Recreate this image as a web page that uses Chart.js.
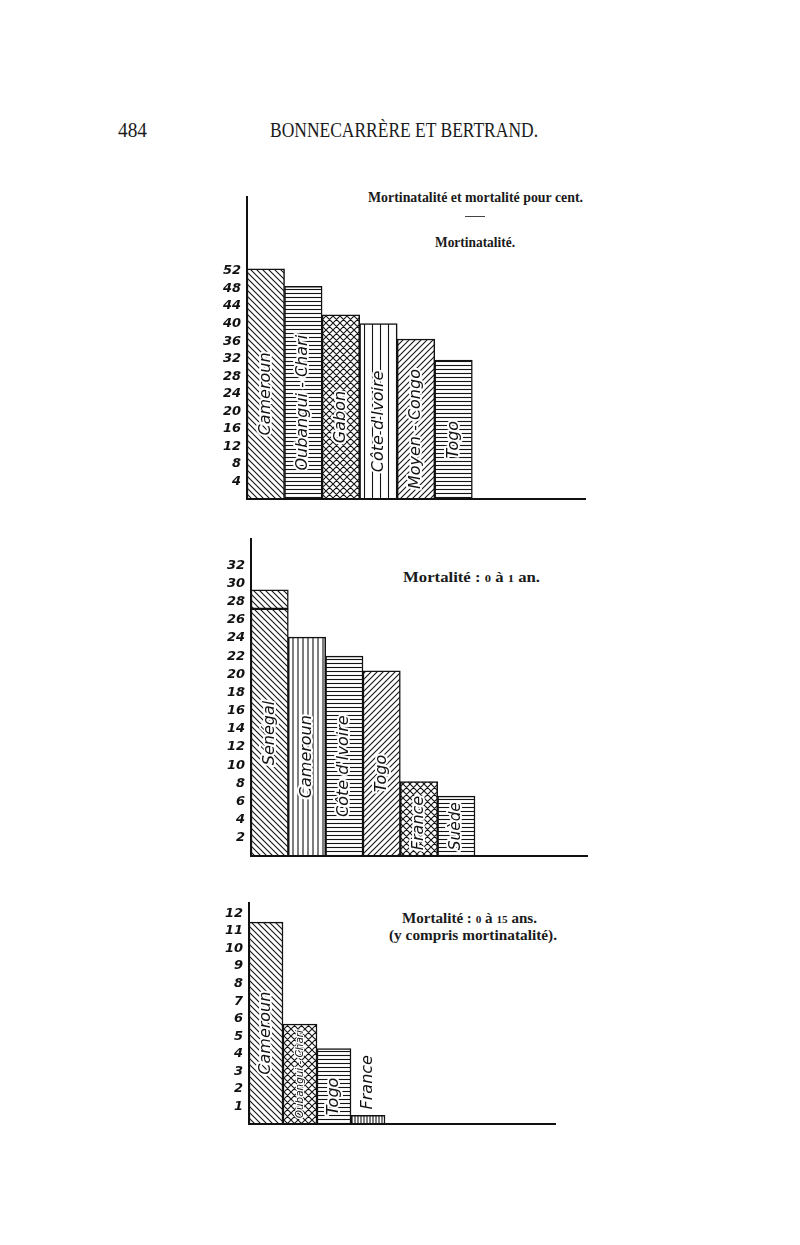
<!DOCTYPE html>
<html>
<head>
<meta charset="utf-8">
<script src="https://cdn.jsdelivr.net/npm/chart.js@4.4.0/dist/chart.umd.min.js"></script>
<style>
body { margin: 0; background: #fff; width: 800px; height: 1245px; position: relative; overflow: hidden;
       font-family: "Liberation Serif", serif; color: #1b1b1b; }
.box { position: absolute; }
.txt { position: absolute; white-space: nowrap; line-height: 1; transform-origin: 0 0; }
.old { font-size: 0.75em; }
</style>
</head>
<body>

<div class="txt fit" data-w="29" style="left:118px;top:120px;font-size:20px">484</div>
<div class="txt fit" data-w="268" style="left:270px;top:120px;font-size:20px">BONNECARRÈRE ET BERTRAND.</div>

<div class="txt fit" data-w="215" style="left:368px;top:191px;font-size:14px;font-weight:bold">Mortinatalité et mortalité pour cent.</div>
<div class="txt" style="left:465px;top:216px;width:20px;border-top:1px solid #444"></div>
<div class="txt fit" data-w="80" style="left:435px;top:236px;font-size:14px;font-weight:bold">Mortinatalité.</div>

<div class="txt fit" data-w="137" style="left:403px;top:571px;font-size:14px;font-weight:bold">Mortalité : <span class="old">0</span> à <span class="old">1</span> an.</div>

<div class="txt fit" data-w="135" style="left:402px;top:912px;font-size:14px;font-weight:bold">Mortalité : <span class="old">0</span> à <span class="old">15</span> ans.</div>
<div class="txt fit" data-w="168" style="left:389px;top:929px;font-size:14px;font-weight:bold">(y compris mortinatalité).</div>

<div class="box" style="left:200px;top:183px"><canvas id="c1" width="400" height="330"></canvas></div>
<div class="box" style="left:200px;top:525px"><canvas id="c2" width="400" height="345"></canvas></div>
<div class="box" style="left:200px;top:889px"><canvas id="c3" width="380" height="249"></canvas></div>

<script>
// Mortinatalité
var mortinatLabels = ['Cameroun', 'Oubangui - Chari', 'Gabon', "Côte d'Ivoire", 'Moyen - Congo', 'Togo'];
var mortinatValues = [52.5, 48.5, 42, 40, 36.5, 31.7];
var mortinatTicks = [4, 8, 12, 16, 20, 24, 28, 32, 36, 40, 44, 48, 52];

// Mortalité 0 à 1 an (Sénégal en deux parties)
var enfantLabels = ['Sénégal', 'Cameroun', "Côte d'Ivoire", 'Togo', 'France', 'Suède'];
var enfantValues = [27.2, 24.1, 22, 20.4, 8.2, 6.6];
var enfantHaut = [2.1, 0, 0, 0, 0, 0];
var enfantTicks = [2, 4, 6, 8, 10, 12, 14, 16, 18, 20, 22, 24, 26, 28, 30, 32];

// Mortalité 0 à 15 ans
var jeuneLabels = ['Cameroun', 'Oubangui - Chari', 'Togo', 'France'];
var jeuneValues = [11.5, 5.7, 4.3, 0.5];
var jeuneTicks = [1, 2, 3, 4, 5, 6, 7, 8, 9, 10, 11, 12];

// squeeze the printed text to the width it has on the page
document.querySelectorAll('.fit').forEach(function(el) {
    var w = el.getBoundingClientRect().width;
    el.style.transform = 'scaleX(' + (el.dataset.w / w) + ')';
});

function hatch(kind) {
    var sizes = {back: 6, fwd: 6, horiz: 4, vert: 5, vertWide: 8, vertDense: 3, cross: 7};
    var s = sizes[kind];
    var c = document.createElement('canvas');
    c.width = s; c.height = s;
    var g = c.getContext('2d');
    g.fillStyle = '#fff';
    g.fillRect(0, 0, s, s);
    g.strokeStyle = '#141414';
    g.lineWidth = 1.1;
    g.beginPath();
    if (kind == 'back' || kind == 'cross') {
        g.moveTo(-1, -1); g.lineTo(s + 1, s + 1);
        g.moveTo(-1, s - 1); g.lineTo(1, s + 1);
        g.moveTo(s - 1, -1); g.lineTo(s + 1, 1);
    }
    if (kind == 'fwd' || kind == 'cross') {
        g.moveTo(-1, s + 1); g.lineTo(s + 1, -1);
        g.moveTo(-1, 1); g.lineTo(1, -1);
        g.moveTo(s - 1, s + 1); g.lineTo(s + 1, s - 1);
    }
    if (kind == 'horiz') {
        g.moveTo(0, s / 2 + 0.5); g.lineTo(s, s / 2 + 0.5);
    }
    if (kind.indexOf('vert') == 0) {
        g.moveTo(s / 2 + 0.5, 0); g.lineTo(s / 2 + 0.5, s);
    }
    g.stroke();
    return g.createPattern(c, 'repeat');
}

// country names written up the bars
var barText = {
    id: 'barText',
    afterDatasetsDraw: function(chart, args, opts) {
        var ctx = chart.ctx;
        var y = chart.scales.y;
        var base = y.getPixelForValue(0);
        var meta = chart.getDatasetMeta(0);
        meta.data.forEach(function(bar, i) {
            var name = opts.names[i];
            if (!name) return;
            var total = 0;
            chart.data.datasets.forEach(function(ds) { total += ds.data[i] || 0; });
            var top = y.getPixelForValue(total);
            var h = base - top;
            var size = 16;
            ctx.save();
            ctx.font = 'italic ' + size + 'px "DejaVu Sans"';
            var w = ctx.measureText(name).width;
            var avail = h - 12;
            var above = false;
            if (w > avail) {
                if (avail >= 40) {
                    size = size * avail / w;
                    w = avail;
                } else {
                    above = true;
                }
            }
            var cy;
            if (above) cy = top - 6 - w / 2;
            else cy = Math.min((base + top) / 2 + 10, base - 6 - w / 2);
            ctx.translate(bar.x, cy);
            ctx.rotate(-Math.PI / 2);
            ctx.font = 'italic ' + size + 'px "DejaVu Sans"';
            ctx.textAlign = 'center';
            ctx.textBaseline = 'middle';
            if (!above) {
                ctx.strokeStyle = '#fff';
                ctx.lineWidth = size > 12 ? 4 : 2.5;
                ctx.lineJoin = 'round';
                ctx.strokeText(name, 0, 0);
            }
            ctx.fillStyle = '#111';
            ctx.fillText(name, 0, 0);
            ctx.restore();
        });
    }
};

function drawChart(id, names, datasets, ticks, yMax, yWidth, padRight) {
    var slots = names.slice();
    while (slots.length < 9) slots.push('');
    return new Chart(document.getElementById(id), {
        type: 'bar',
        data: {labels: slots, datasets: datasets},
        plugins: [barText],
        options: {
            responsive: false,
            animation: false,
            layout: {padding: {top: 10, bottom: 10, left: 0, right: padRight}},
            plugins: {
                legend: {display: false},
                tooltip: {enabled: false},
                barText: {names: names}
            },
            scales: {
                x: {
                    stacked: true,
                    grid: {display: false, drawTicks: false},
                    ticks: {display: false},
                    border: {color: '#111', width: 2},
                    afterFit: function(s) { s.height = 0; }
                },
                y: {
                    stacked: true,
                    min: 0,
                    max: yMax,
                    grid: {display: false, drawTicks: false},
                    border: {color: '#111', width: 2},
                    ticks: {
                        color: '#111',
                        padding: 6,
                        font: {family: 'DejaVu Sans', style: 'italic', size: 13, weight: 'bold'}
                    },
                    afterBuildTicks: function(s) {
                        s.ticks = ticks.map(function(v) { return {value: v}; });
                    },
                    afterFit: function(s) { s.width = yWidth; }
                }
            }
        }
    });
}

function bars(values, kinds) {
    return {
        data: values,
        backgroundColor: kinds.map(hatch),
        borderColor: '#111',
        borderWidth: 1.5,
        borderSkipped: false,
        barPercentage: 1,
        categoryPercentage: 1
    };
}

drawChart('c1', mortinatLabels,
    [bars(mortinatValues, ['back', 'horiz', 'cross', 'vertWide', 'fwd', 'horiz'])],
    mortinatTicks, 310 / 4.5, 47, 15);

drawChart('c2', enfantLabels,
    [bars(enfantValues, ['back', 'vert', 'horiz', 'fwd', 'cross', 'horiz']),
     bars(enfantHaut, ['back', 'back', 'back', 'back', 'back', 'back'])],
    enfantTicks, 325 / 9.31, 51, 13);

drawChart('c3', jeuneLabels,
    [bars(jeuneValues, ['back', 'cross', 'horiz', 'vertDense'])],
    jeuneTicks, 229 / 18.18, 49, 25);
</script>
</body>
</html>
